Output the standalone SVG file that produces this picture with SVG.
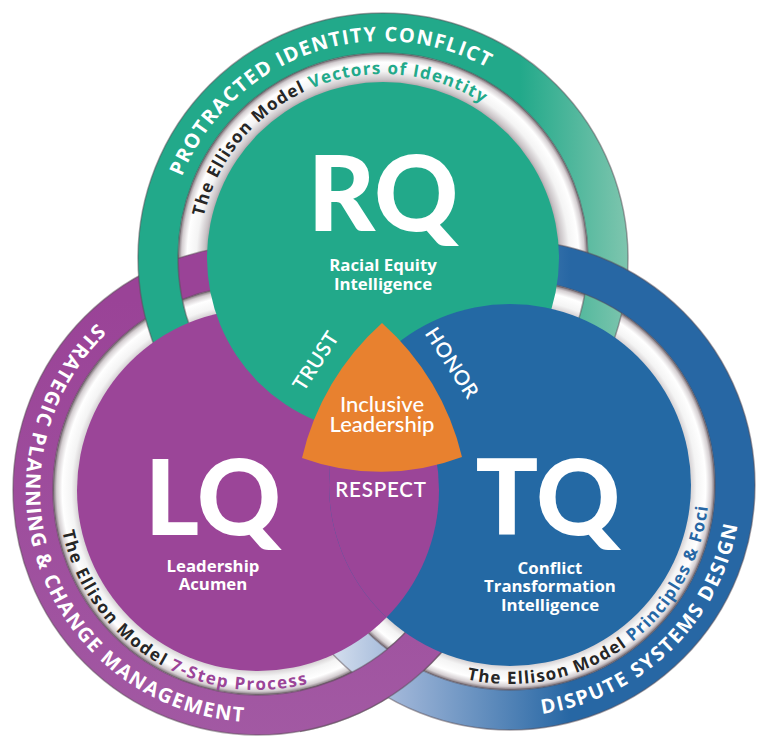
<svg xmlns="http://www.w3.org/2000/svg" width="767" height="746" viewBox="0 0 767 746">
<defs>
<style>
.ring{fill:none;stroke-width:40}
.edge{fill:none;stroke:#5a4e56;stroke-opacity:.5;stroke-width:1.5}
.band{fill:url(#band)}
.rt{font-family:"Open Sans","DejaVu Sans",sans-serif;font-weight:700;font-size:20px;fill:#fff}
.bt{font-family:"Open Sans","DejaVu Sans",sans-serif;font-weight:700;font-size:17px;fill:#262626}
.big{font-family:Lato,"Open Sans",sans-serif;font-weight:900;font-size:104px;fill:#fff;text-anchor:middle}
.sub{font-family:"Open Sans","DejaVu Sans",sans-serif;font-weight:700;font-size:16.8px;fill:#fff;text-anchor:middle}
.val{font-family:Lato,"Open Sans",sans-serif;font-weight:600;font-size:20.5px;fill:#fff;text-anchor:middle}
.inc{font-family:Lato,"Open Sans",sans-serif;font-weight:500;font-size:22px;fill:#fff;text-anchor:middle}
</style>
<radialGradient id="band">
<stop offset="0.84" stop-color="#8f848a"/>
<stop offset="0.87" stop-color="#c9c3c6"/>
<stop offset="0.91" stop-color="#f4f4f4"/>
<stop offset="0.955" stop-color="#ffffff"/>
<stop offset="0.982" stop-color="#d4ced1"/>
<stop offset="1" stop-color="#74686f"/>
</radialGradient>
<linearGradient id="gG" gradientUnits="userSpaceOnUse" x1="520" y1="0" x2="630" y2="0">
<stop offset="0" stop-color="#22a98a"/>
<stop offset="1" stop-color="#80c6af"/>
</linearGradient>
<linearGradient id="gB" gradientUnits="userSpaceOnUse" x1="320" y1="0" x2="570" y2="0">
<stop offset="0" stop-color="#dde6f2"/>
<stop offset="0.32" stop-color="#9db4d7"/>
<stop offset="1" stop-color="#2767a4"/>
</linearGradient>
<linearGradient id="gP" gradientUnits="userSpaceOnUse" x1="0" y1="300" x2="0" y2="740">
<stop offset="0" stop-color="#9a4397"/>
<stop offset="1" stop-color="#a259a3"/>
</linearGradient>
<path id="pG1" d="M181.8,176.7 A217,217 0 0 1 491.5,70.1"/>
<path id="pG2" d="M203.7,216.6 A184,184 0 0 1 488.5,107.3"/>
<path id="pP1" d="M96.8,323.1 A232,232 0 0 0 249.9,721.9"/>
<path id="pP2" d="M62.4,531.6 A200,200 0 0 0 313.1,682.3"/>
<path id="pB1" d="M542.1,713.8 A231,231 0 0 0 738.2,521.1"/>
<path id="pB2" d="M466.9,679.3 A199,199 0 0 0 708.2,502.4"/>
<clipPath id="clipBot"><rect x="300" y="600" width="190" height="146"/></clipPath>
<clipPath id="clipB"><circle cx="510" cy="485" r="181"/></clipPath>
</defs>

<g id="bands">
<g id="band-RQ">
<circle class="band" cx="383" cy="258" r="205"/>
<text class="bt"><textPath href="#pG2" textLength="352" lengthAdjust="spacing">The Ellison Model <tspan fill="#22a98a">Vectors of Identity</tspan></textPath></text>
</g>
<g id="band-LQ">
<circle class="band" cx="258" cy="490" r="205"/>
<text class="bt"><textPath href="#pP2" textLength="322" lengthAdjust="spacing">The Ellison Model <tspan fill="#9b4598">7-Step Process</tspan></textPath></text>
</g>
<g id="band-TQ">
<circle class="band" cx="510" cy="485" r="205"/>
<text class="bt"><textPath href="#pB2" textLength="334" lengthAdjust="spacing">The Ellison Model <tspan fill="#2767a4">Principles &amp; Foci</tspan></textPath></text>
</g>
</g>

<g id="rings">
<g id="ring-LQ">
<circle class="ring" cx="258" cy="490" r="225" stroke="url(#gP)"/>
<circle class="edge" cx="258" cy="490" r="245"/>
<circle class="edge" cx="258" cy="490" r="205"/>
<text class="rt"><textPath href="#pP1" textLength="536" lengthAdjust="spacing">STRATEGIC PLANNING &amp; CHANGE MANAGEMENT</textPath></text>
</g>
<g id="ring-RQ">
<circle class="ring" cx="383" cy="258" r="225" stroke="url(#gG)"/>
<circle class="edge" cx="383" cy="258" r="245"/>
<circle class="edge" cx="383" cy="258" r="205"/>
<text class="rt"><textPath href="#pG1" textLength="366" lengthAdjust="spacing">PROTRACTED IDENTITY CONFLICT</textPath></text>
</g>
<g id="ring-TQ">
<circle class="ring" cx="510" cy="485" r="225" stroke="url(#gB)"/>
<circle class="edge" cx="510" cy="485" r="245"/>
<circle class="edge" cx="510" cy="485" r="205"/>
<text class="rt"><textPath href="#pB1" textLength="290" lengthAdjust="spacing">DISPUTE SYSTEMS DESIGN</textPath></text>
</g>
<use href="#ring-LQ" clip-path="url(#clipBot)"/>
</g>

<g id="node-LQ">
<circle id="diskP" cx="258" cy="490" r="181" fill="#9b4598"/>
</g>

<g id="node-RQ">
<circle cx="383" cy="258" r="176" fill="#22a98a"/>
<text class="big" x="383" y="231">RQ</text>
<text class="sub" x="383" y="271">Racial Equity</text>
<text class="sub" x="383" y="290">Intelligence</text>
<text class="val" transform="translate(316,361) rotate(-57)" y="7" letter-spacing="0.5">TRUST</text>
</g>

<g id="node-TQ">
<circle cx="510" cy="485" r="181" fill="#2469a4"/>
<text class="big" x="548" y="535">TQ</text>
<text class="sub" x="550" y="574">Conflict</text>
<text class="sub" x="550" y="592">Transformation</text>
<text class="sub" x="550" y="611">Intelligence</text>
<text class="val" transform="translate(452,363) rotate(57)" y="7" letter-spacing="0.5">HONOR</text>
</g>

<g id="node-LQ-front">
<use href="#diskP" clip-path="url(#clipB)"/>
<text class="big" x="213" y="535">LQ</text>
<text class="sub" x="213" y="572">Leadership</text>
<text class="sub" x="213" y="590">Acumen</text>
<text class="val" x="381" y="497" letter-spacing="0.8">RESPECT</text>
</g>

<g id="node-center">
<path d="M382,323 A260,260 0 0 1 462,457 A230,230 0 0 1 302,458 A260,260 0 0 1 382,323 Z" fill="#e8812f"/>
<text class="inc" x="382" y="412">Inclusive</text>
<text class="inc" x="382" y="432">Leadership</text>
</g>
</svg>
